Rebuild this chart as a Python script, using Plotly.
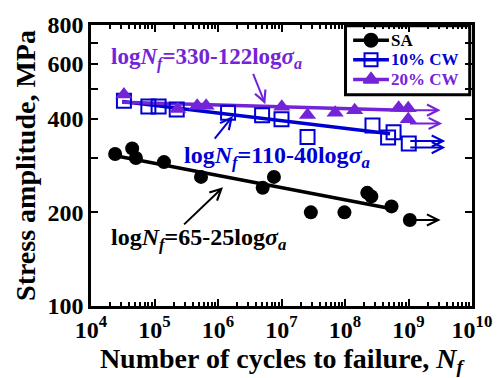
import numpy as np
import plotly.graph_objects as go

BLACK = "#000000"
BLUE = "#0000D2"
PURPLE = "#7424D8"
FONT = "Liberation Serif"

# ---- measured fatigue data (cycles to failure, stress amplitude in MPa) ----
sa_cycles = [2.4e4, 4.45e4, 5.1e4, 1.41e5, 5.4e5, 5.06e6, 7.6e6, 2.9e7, 9.8e7, 2.24e8, 2.6e8, 5.4e8, 1.05e9]
sa_stress = [308, 321, 299, 290, 260, 240, 260, 200, 200, 231, 225, 209, 189]

cw10_cycles = [3.3e4, 8.0e4, 1.16e5, 2.24e5, 1.44e6, 4.95e6, 1.0e7, 2.57e7, 2.71e8, 4.77e8, 5.82e8, 1.01e9]
cw10_stress = [457, 438, 438, 428, 418, 410, 398, 349, 380, 348, 362, 333]

cw20_cycles = [3.3e4, 2.32e5, 4.7e5, 6.5e5, 1.01e7, 2.57e7, 7.0e7, 1.42e8, 7.0e8, 9.9e8, 9.9e8]
cw20_stress = [478, 430, 440, 440, 437, 411, 418, 426, 434, 432, 398]

# ---- fitted S-N lines (end points) ----
sa_fit_cycles = [2.42e4, 5.69e8]
sa_fit_stress = [304, 205]
cw10_fit_cycles = [3.1e4, 5.12e8]
cw10_fit_stress = [454, 358]
cw20_fit_cycles = [3.1e4, 1.11e9]
cw20_fit_stress = [452, 425]

# ---- run-out arrows ----
runout_start = [1.05e9, 1.01e9, 1.01e9, 1.11e9, 1.0e9]
runout_end = [3.2e9, 3.8e9, 3.8e9, 3.2e9, 3.4e9]
runout_stress = [189, 339, 323, 426, 386]
runout_group = ["SA", "10% CW", "10% CW", "20% CW", "20% CW"]

# ---- fit equations: text position, arrow tail and arrow tip (cycles, stress) ----
eq_text = [
    "log<i>N</i><sub><i>f</i></sub>=330-122log<i>σ</i><sub><i>a</i></sub>",
    "log<i>N</i><sub><i>f</i></sub>=110-40log<i>σ</i><sub><i>a</i></sub>",
    "log<i>N</i><sub><i>f</i></sub>=65-25log<i>σ</i><sub><i>a</i></sub>",
]
eq_size = [23, 24, 24]
eq_group = ["20% CW", "10% CW", "SA"]
eq_pos_cycles = [6.6e5, 8.5e6, 4.9e5]
eq_pos_stress = [625, 302, 164]
eq_tail_cycles = [3.5e6, 8.5e5, 2.77e5]
eq_tail_stress = [563, 341, 181]
eq_tip_cycles = [5.56e6, 1.72e6, 1.2e6]
eq_tip_stress = [445, 408, 241]

# ---- legend entries ----
legend_names = ["SA", "10% CW", "20% CW"]
legend_symbols = ["circle", "square-open", "triangle-up"]

colours = {"SA": BLACK, "10% CW": BLUE, "20% CW": PURPLE}

fig = go.Figure()

# fitted lines
for cyc, st, key in [(sa_fit_cycles, sa_fit_stress, "SA"),
                     (cw10_fit_cycles, cw10_fit_stress, "10% CW"),
                     (cw20_fit_cycles, cw20_fit_stress, "20% CW")]:
    fig.add_trace(go.Scatter(x=cyc, y=st, mode="lines", showlegend=False,
                             line=dict(color=colours[key], width=3.5), hoverinfo="skip"))

# data points
fig.add_trace(go.Scatter(x=sa_cycles, y=sa_stress, mode="markers", showlegend=False,
                         marker=dict(symbol="circle", size=14, color=BLACK)))
fig.add_trace(go.Scatter(x=cw10_cycles, y=cw10_stress, mode="markers", showlegend=False,
                         marker=dict(symbol="square-open", size=14, color=BLUE,
                                     line=dict(width=2, color=BLUE))))
fig.add_trace(go.Scatter(x=cw20_cycles, y=cw20_stress, mode="markers", showlegend=False,
                         marker=dict(symbol="triangle-up", size=15, color=PURPLE)))

# legend box drawn inside the plot area (paper units on an overlay axis)
leg_x0, leg_x1, leg_y0, leg_y1 = 0.668, 0.994, 0.752, 0.997
leg_rows = [0.946, 0.876, 0.806]
seg_x0, seg_x1, txt_x = 0.688, 0.782, 0.786

shapes = [dict(type="rect", xref="paper", yref="paper", x0=leg_x0, x1=leg_x1,
               y0=leg_y0, y1=leg_y1, line=dict(color=BLACK, width=3),
               fillcolor="white", layer="below")]
annotations = []
for name, sym, ry in zip(legend_names, legend_symbols, leg_rows):
    c = colours[name]
    fig.add_trace(go.Scatter(
        x=[seg_x0, seg_x1], y=[ry, ry], xaxis="x2", yaxis="y2", mode="lines",
        line=dict(color=c, width=3.5), showlegend=False, hoverinfo="skip"))
    fig.add_trace(go.Scatter(
        x=[(seg_x0 + seg_x1) / 2], y=[ry], xaxis="x2", yaxis="y2", mode="markers",
        marker=dict(symbol=sym, size=13, color=c, line=dict(width=2, color=c)),
        showlegend=False, hoverinfo="skip"))
    annotations.append(dict(
        x=txt_x, y=ry, xref="paper", yref="paper", xanchor="left", yanchor="middle",
        text=name, showarrow=False, borderpad=0,
        font=dict(family=FONT, size=17, color=c, weight="bold")))

# run-out arrows
for s, e, st, key in zip(runout_start, runout_end, runout_stress, runout_group):
    annotations.append(dict(
        x=np.log10(e), y=np.log10(st), ax=np.log10(s), ay=np.log10(st),
        xref="x", yref="y", axref="x", ayref="y", text="", showarrow=True,
        arrowhead=5, arrowsize=1.1, arrowwidth=2, arrowcolor=colours[key], standoff=0))

# equation labels with pointer arrows
for txt, sz, key, px, py, tx, ty, hx, hy in zip(eq_text, eq_size, eq_group, eq_pos_cycles,
                                                 eq_pos_stress, eq_tail_cycles, eq_tail_stress,
                                                 eq_tip_cycles, eq_tip_stress):
    annotations.append(dict(
        x=np.log10(px), y=np.log10(py), xref="x", yref="y", text=txt, showarrow=False,
        font=dict(family=FONT, size=sz, color=colours[key], weight="bold")))
    annotations.append(dict(
        x=np.log10(hx), y=np.log10(hy), ax=np.log10(tx), ay=np.log10(ty),
        xref="x", yref="y", axref="x", ayref="y", text="", showarrow=True,
        arrowhead=5, arrowsize=1.1, arrowwidth=2, arrowcolor=colours[key], standoff=0))

x_major = [10.0 ** k for k in range(4, 11)]
x_minor = [m * 10.0 ** k for k in range(4, 10) for m in range(2, 10)]
y_ticks = [100, 200, 300, 400, 500, 600, 700, 800]
y_labels = ["100", "200", "", "400", "", "600", "", "800"]

fig.update_layout(
    width=504, height=378,
    margin=dict(l=91, r=22, t=16, b=72),
    paper_bgcolor="white", plot_bgcolor="white",
    font=dict(family=FONT, color=BLACK),
    showlegend=False,
    shapes=shapes,
    annotations=annotations,
    xaxis=dict(
        type="log", range=[4, 10],
        tickmode="array", tickvals=x_major,
        ticktext=[f"10<sup>{k}</sup>" for k in range(4, 11)],
        ticks="inside", ticklen=7, tickwidth=2, tickcolor=BLACK,
        minor=dict(tickmode="array", tickvals=x_minor, ticks="inside",
                   ticklen=4, tickwidth=1.5, tickcolor=BLACK),
        showline=True, linewidth=2.5, linecolor=BLACK, mirror="ticks",
        showgrid=False, zeroline=False,
        tickfont=dict(family=FONT, size=24, weight="bold"),
        title=dict(text="Number of cycles to failure, <i>N</i><sub><i>f</i></sub>",
                   font=dict(family=FONT, size=28, weight="bold"), standoff=4),
    ),
    yaxis=dict(
        type="log", range=[2, np.log10(800)],
        tickmode="array", tickvals=y_ticks, ticktext=y_labels,
        ticks="inside", ticklen=7, tickwidth=2, tickcolor=BLACK,
        showline=True, linewidth=2.5, linecolor=BLACK, mirror="ticks",
        showgrid=False, zeroline=False,
        tickfont=dict(family=FONT, size=24, weight="bold"),
        title=dict(text="Stress amplitude, MPa",
                   font=dict(family=FONT, size=28, weight="bold"), standoff=4),
    ),
    xaxis2=dict(overlaying="x", range=[0, 1], visible=False, fixedrange=True),
    yaxis2=dict(overlaying="y", range=[0, 1], visible=False, fixedrange=True),
)

fig.write_html("out.html")
